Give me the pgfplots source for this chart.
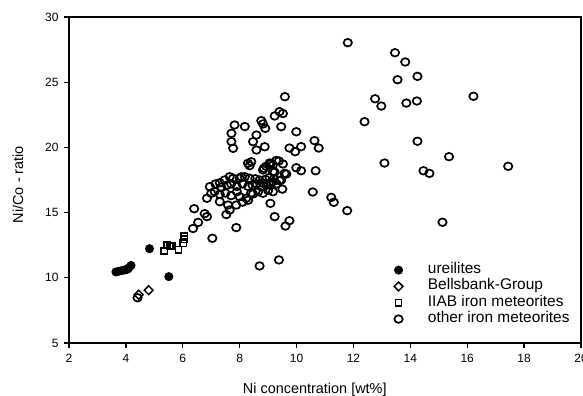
\documentclass[border=0pt]{standalone}
\usepackage{fontspec}
\setmainfont{Liberation Sans}
\usepackage{pgfplots}
\pgfplotsset{compat=1.18}
\begin{document}
\begin{tikzpicture}
\begin{axis}[
 scale only axis, width=512bp, height=326bp,
 xmin=2, xmax=20, ymin=5, ymax=30,
 xtick={2,4,...,20}, ytick={5,10,...,30},
 tick align=outside, xtick pos=bottom, ytick pos=left,
 major tick length=5bp,
 axis line style={line width=1.3bp},
 every tick/.style={black, line width=1.3bp},
 tick label style={font=\fontsize{12}{14}\selectfont},
 xticklabel style={yshift=-3bp},
 yticklabel style={xshift=-2bp},
 /pgf/number format/assume math mode=true,
 xlabel={Ni concentration [wt\%]}, ylabel={Ni/Co - ratio},
 label style={font=\fontsize{14.5}{16}\selectfont},
 xlabel style={at={(axis description cs:0.48,-0.156)}, anchor=base},
 ylabel style={at={(axis description cs:-0.0996,0.486)}, anchor=center},
 legend style={at={(axis cs:13.32,11.38)}, anchor=north west, draw=none, fill=none,
   font=\fontsize{15.5}{17}\selectfont, column sep=24bp, row sep=0pt,
   nodes={inner sep=1bp, text height=10.5bp, text depth=3.8bp}},
 legend cell align=left,
]
\addplot[only marks, mark=*, mark size=4bp, black, mark options={fill=black, line width=1bp}] coordinates {
(3.65,10.45) (3.75,10.5) (3.85,10.55) (3.95,10.6) (4.05,10.65) (4.1,10.75) (4.18,10.95) (4.83,12.23) (5.51,10.09)};
\addlegendentry{ureilites}
\addplot[only marks, mark=square, mark size=3.1bp, black, mark options={rotate=45, fill=white, line width=1.5bp}] coordinates {
(4.45,8.7) (4.8,9.05)};
\addlegendentry{Bellsbank-Group}
\addplot[only marks, mark=square, mark size=3.1bp, black, mark options={fill=white, line width=1.5bp}] coordinates {
(5.35,12.05) (5.45,12.5) (5.55,12.4) (5.62,12.45) (5.85,12.15) (6.02,12.65) (6.05,12.95) (6.05,13.2)};
\addlegendentry{IIAB iron meteorites}
\addplot[only marks, mark=o, mark size=3.8bp, black, mark options={fill=white, line width=1.7bp, xscale=1.1}] coordinates {
(4.41,8.47) (6.36,13.78) (6.54,14.25) (6.40,15.30) (6.77,14.92) (6.85,14.69) (7.04,13.03) (7.88,13.85)
(8.70,10.91) (9.38,11.37) (7.53,14.85) (7.65,15.20) (7.59,15.58) (7.30,15.84) (7.88,15.58) (6.85,16.10)
(7.00,16.48) (6.95,16.99) (7.12,16.61) (7.30,16.40) (7.30,17.29) (7.47,17.50) (7.15,17.20) (7.35,16.95)
(7.55,17.10) (7.50,16.50) (7.70,16.30) (7.65,17.75) (7.77,17.63) (7.70,17.20) (7.90,16.60) (7.90,17.00)
(8.00,17.63) (8.00,16.22) (8.06,17.75) (8.10,15.80) (8.10,17.20) (8.18,17.75) (8.23,16.10) (8.30,15.95)
(8.30,17.00) (8.35,17.63) (8.40,16.50) (8.47,16.43) (8.45,17.10) (8.55,17.60) (8.60,17.20) (8.65,16.60)
(8.70,17.50) (8.75,17.00) (8.82,16.48) (8.82,17.25) (8.90,17.55) (8.95,17.10) (9.00,16.70) (9.05,17.70)
(9.10,17.30) (9.17,17.37) (9.17,16.60) (9.20,17.60) (9.30,17.20) (9.40,17.45) (9.46,17.50) (9.50,16.80)
(9.08,15.71) (9.23,14.69) (9.61,13.97) (9.75,14.38) (8.29,18.78) (8.41,18.90) (8.35,18.60) (8.82,18.27)
(8.85,18.40) (8.93,18.55) (9.05,18.80) (9.11,18.78) (9.17,18.65) (9.29,19.00) (9.38,18.96) (9.52,18.73)
(9.17,18.14) (9.23,18.10) (9.58,18.01) (9.64,17.96) (9.99,18.44) (10.16,18.21) (10.67,18.21) (10.57,16.58)
(11.22,16.17) (11.31,15.79) (11.78,15.15) (7.71,21.08) (7.82,21.72) (7.71,20.44) (7.77,19.93) (8.18,21.60)
(8.47,20.44) (8.59,20.95) (8.59,19.80) (8.76,22.05) (8.82,21.80) (8.90,21.46) (8.88,20.05) (9.23,22.41)
(9.40,22.74) (9.52,22.60) (9.46,21.59) (9.59,23.89) (9.75,19.95) (9.95,19.67) (9.99,21.20) (10.16,20.06)
(10.63,20.52) (10.78,19.95) (11.80,28.03) (13.46,27.26) (13.82,26.55) (14.25,25.45) (13.55,25.19) (12.76,23.73)
(12.98,23.17) (13.86,23.40) (14.23,23.56) (16.22,23.92) (12.39,21.97) (14.25,20.47) (15.36,19.29) (13.09,18.80)
(14.46,18.21) (14.67,18.01) (17.44,18.55) (15.13,14.26)};
\addlegendentry{other iron meteorites}
\end{axis}
\pgfresetboundingbox
\path (-69bp,-53bp) rectangle (514bp,343bp);
\end{tikzpicture}
\end{document}
